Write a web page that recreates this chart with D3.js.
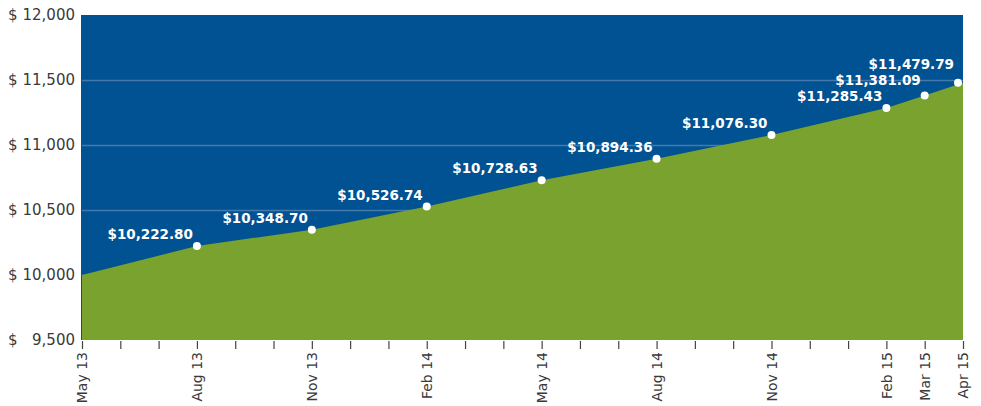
<!DOCTYPE html>
<html lang="en">
<head>
    <meta charset="UTF-8">
    <title>Growth of $10,000</title>
    <script src="https://cdn.jsdelivr.net/npm/d3@7"></script>
    <style>
        body { margin: 0; background: #fff; }
        svg { display: block; }
    </style>
</head>
<body>
    <script>
        // monthly categories on the x axis (one tick each)
        var months = ["May 13", "Jun 13", "Jul 13", "Aug 13", "Sep 13", "Oct 13", "Nov 13", "Dec 13",
            "Jan 14", "Feb 14", "Mar 14", "Apr 14", "May 14", "Jun 14", "Jul 14", "Aug 14", "Sep 14",
            "Oct 14", "Nov 14", "Dec 14", "Jan 15", "Feb 15", "Mar 15", "Apr 15"];
        var tickLabels = ["May 13", "Aug 13", "Nov 13", "Feb 14", "May 14", "Aug 14", "Nov 14", "Feb 15", "Mar 15", "Apr 15"];

        // series
        var pointMonths = ["May 13", "Aug 13", "Nov 13", "Feb 14", "May 14", "Aug 14", "Nov 14", "Feb 15", "Mar 15", "Apr 15"];
        var pointValues = [10000, 10222.80, 10348.70, 10526.74, 10728.63, 10894.36, 11076.30, 11285.43, 11381.09, 11479.79];

        var yTicks = [9500, 10000, 10500, 11000, 11500, 12000];

        var width = 981, height = 406;
        var padding = { left: 82, right: 18, top: 15, bottom: 66 };

        var svg = d3.select("body").append("svg")
            .attr("width", width)
            .attr("height", height);

        var x = d3.scalePoint()
            .domain(months)
            .range([padding.left, width - padding.right]);

        var y = d3.scaleLinear()
            .domain([9500, 12000])
            .range([height - padding.bottom, padding.top]);

        var data = pointMonths.map(function (m, i) { return { m: m, v: pointValues[i] }; });

        // blue background
        svg.append("rect")
            .attr("x", padding.left - 1)
            .attr("y", padding.top)
            .attr("width", width - padding.right - padding.left + 1)
            .attr("height", height - padding.bottom - padding.top)
            .attr("fill", "#005292");

        // grid lines
        svg.append("g").selectAll("line")
            .data(yTicks.slice(1, -1))
            .enter().append("line")
            .attr("x1", padding.left)
            .attr("x2", width - padding.right)
            .attr("y1", function (d) { return y(d) + 0.5; })
            .attr("y2", function (d) { return y(d) + 0.5; })
            .attr("stroke", "#4479ad")
            .attr("stroke-width", 1.5);

        // green area
        var area = d3.area()
            .x(function (d) { return x(d.m); })
            .y0(y(9500))
            .y1(function (d) { return y(d.v); });

        svg.append("path")
            .datum(data)
            .attr("d", area)
            .attr("fill", "#79a22f");

        // dots + labels (first point has none)
        var labelled = data.slice(1);
        var last = labelled.length - 1;

        svg.append("g").selectAll("circle")
            .data(labelled)
            .enter().append("circle")
            .attr("cx", function (d) { return Math.min(x(d.m), width - padding.right - 5); })
            .attr("cy", function (d) { return y(d.v); })
            .attr("r", 4)
            .attr("fill", "#fff");

        // the last two labels are crowded, lift them a bit more
        function lift(i) {
            if (i === last) return 14;
            if (i === last - 1) return 10;
            return 7;
        }

        var fmt = d3.format(",.2f");
        svg.append("g").selectAll("text")
            .data(labelled)
            .enter().append("text")
            .attr("x", function (d) { return Math.min(x(d.m), width - padding.right - 5) - 4; })
            .attr("y", function (d, i) { return y(d.v) - lift(i); })
            .attr("text-anchor", "end")
            .attr("fill", "#fff")
            .style("font-family", "'DejaVu Sans', sans-serif")
            .style("font-weight", "bold")
            .style("font-size", "13.5px")
            .text(function (d) { return "$" + fmt(d.v); });

        // x axis
        var xaxis = d3.axisBottom(x)
            .tickSize(8)
            .tickPadding(4)
            .tickFormat(function (d) { return tickLabels.indexOf(d) >= 0 ? d : ""; });

        var gx = svg.append("g")
            .attr("transform", "translate(0," + (height - padding.bottom + 1) + ")")
            .call(xaxis);
        gx.select(".domain").remove();
        gx.selectAll("line").attr("stroke", "#444").attr("stroke-width", 1.2);
        gx.selectAll("text")
            .attr("transform", "rotate(-90)")
            .attr("x", -11)
            .attr("y", 0)
            .attr("dy", "0.35em")
            .attr("text-anchor", "end")
            .attr("fill", "#3a3a3a")
            .style("font-family", "'DejaVu Sans', sans-serif")
            .style("font-size", "14px");

        // y axis labels: "$" left, number right-aligned
        var gy = svg.append("g");
        var yl = gy.selectAll("g")
            .data(yTicks)
            .enter().append("g")
            .attr("transform", function (d) { return "translate(0," + y(d) + ")"; });
        yl.append("text")
            .attr("x", 8)
            .attr("dy", "0.35em")
            .text("$");
        yl.append("text")
            .attr("x", 75)
            .attr("dy", "0.35em")
            .attr("text-anchor", "end")
            .text(function (d) { return d3.format(",")(d); });
        yl.selectAll("text")
            .attr("fill", "#3a3a3a")
            .style("font-family", "'DejaVu Sans', sans-serif")
            .style("font-size", "15px");
    </script>
</body>
</html>
